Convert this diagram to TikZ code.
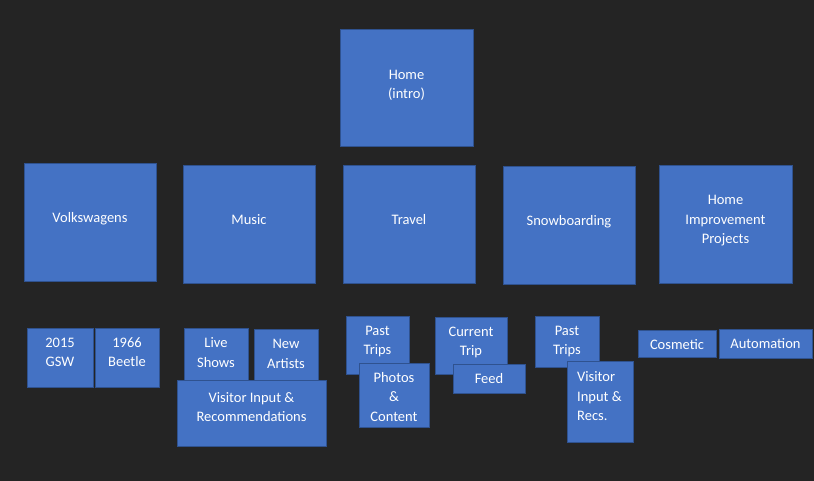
\documentclass[tikz,border=0pt]{standalone}
\usepackage{fontspec}
\setmainfont{Carlito}
\definecolor{bg}{HTML}{242424}
\definecolor{boxfill}{HTML}{4472C4}
\definecolor{boxline}{HTML}{2F528F}
\newcommand\drawbox[5]{\node[box, minimum width={(#4-#2)*1pt}, minimum height={(#5-#3)*1pt}] (#1) at ({(#2+#4)/2},{(#3+#5)/2}) {};}
\tikzset{
  box/.style={draw=boxline, fill=boxfill, line width=1pt, inner sep=0pt, outer sep=0pt},
  txt/.style={text=white, font=\fontsize{14.5}{19.5}\selectfont, inner sep=0pt, align=center},
  bigtxt/.style={txt, anchor=center},
  onetxt/.style={txt, anchor=center, text height=10pt, text depth=3pt},
  smalltxt/.style={txt, anchor=north},
}
\begin{document}
\begin{tikzpicture}[x=1pt, y=-1pt]
\fill[bg] (0,0) rectangle (814,481);
\useasboundingbox (0,0) rectangle (814,481);
% top level
\drawbox{home}{340}{30}{473}{147}
\node[bigtxt] (home-t) at ([yshift=3pt]home.center) {Home\\(intro)};
% second level
\drawbox{volk}{24}{164}{156}{281}
\node[onetxt] (volk-t) at ([yshift=3pt]volk.center) {Volkswagens};
\drawbox{music}{183}{166}{315}{283}
\node[onetxt] (music-t) at ([yshift=3pt]music.center) {Music};
\drawbox{travel}{343}{166}{475}{283}
\node[onetxt] (travel-t) at ([yshift=3pt]travel.center) {Travel};
\drawbox{snow}{503}{167}{635}{284}
\node[onetxt] (snow-t) at ([yshift=3.5pt]snow.center) {Snowboarding};
\drawbox{homeimp}{659}{166}{792}{283}
\node[bigtxt] (homeimp-t) at ([yshift=3.5pt]homeimp.center) {Home\\Improvement\\Projects};
% third level
\drawbox{gsw}{27}{328}{93}{387}
\node[smalltxt] (gsw-t) at ([yshift=-9.5pt]gsw.north) {2015\\GSW};
\drawbox{beetle}{95}{328}{159}{387}
\node[smalltxt] (beetle-t) at ([yshift=-9.5pt]beetle.north) {1966\\Beetle};
\drawbox{live}{184}{328}{248}{384}
\node[smalltxt] (live-t) at ([yshift=-9.5pt]live.north) {Live\\Shows};
\drawbox{artists}{254}{329}{318}{384}
\node[smalltxt] (artists-t) at ([yshift=-10pt]artists.north) {New\\Artists};
\drawbox{visitm}{177}{380}{326}{446}
\node[smalltxt] (visitm-t) at ([yshift=-12pt]visitm.north) {Visitor Input \&\\Recommendations};
\drawbox{pastt}{346}{316}{409}{374}
\node[smalltxt] (pastt-t) at ([yshift=-9.5pt]pastt.north) {Past\\Trips};
\drawbox{photos}{359}{363}{429}{427}
\node[smalltxt] (photos-t) at ([yshift=-9pt]photos.north) {Photos\\\&\\Content};
\drawbox{current}{435}{317}{507}{374}
\node[smalltxt] (current-t) at ([yshift=-9.5pt]current.north) {Current\\Trip};
\drawbox{feed}{453}{364}{525}{393}
\node[smalltxt] (feed-t) at ([yshift=-9.5pt]feed.north) {Feed};
\drawbox{pasts}{535}{316}{599}{367}
\node[smalltxt] (pasts-t) at ([yshift=-9.5pt]pasts.north) {Past\\Trips};
\drawbox{visits}{567}{361}{633}{442}
\node[txt, align=left, anchor=north west] (visits-t) at ([xshift=10pt,yshift=-10.5pt]visits.north west) {Visitor\\Input \&\\Recs.};
\drawbox{cosmetic}{638}{330}{716}{357}
\node[smalltxt] (cosmetic-t) at ([yshift=-9.5pt]cosmetic.north) {Cosmetic};
\drawbox{autom}{719}{329}{812}{358}
\node[smalltxt] (autom-t) at ([yshift=-9.5pt]autom.north) {Automation};
\end{tikzpicture}
\end{document}
